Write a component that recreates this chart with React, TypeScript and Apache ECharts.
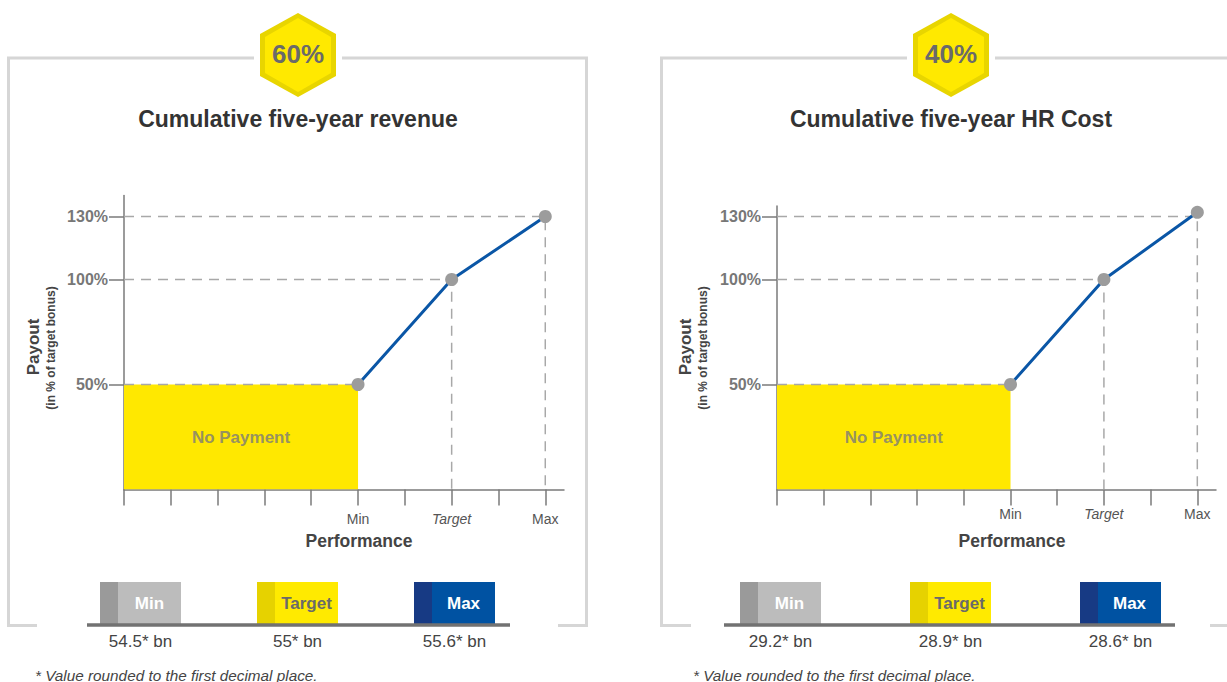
import React, { useEffect, useRef } from "react";
import * as echarts from "echarts";

// ---- data ----
const titles = ["Cumulative five-year revenue", "Cumulative five-year HR Cost"];
const weights = ["60%", "40%"];
const perfLabels = ["Min", "Target", "Max"];
const perfPositions = [5, 7, 9];
const perfTicks = [0, 1, 2, 3, 4, 5, 6, 7, 8, 9];
const payoutLevels = [50, 100, 130];
const revenuePayout = [50, 100, 130];
const hrCostPayout = [50, 100, 132];
const revenueValues = ["54.5* bn", "55* bn", "55.6* bn"];
const hrCostValues = ["29.2* bn", "28.9* bn", "28.6* bn"];
const noPaymentText = "No Payment";
const footnote = "* Value rounded to the first decimal place.";

const FONT = "Liberation Sans, Arial, Helvetica, sans-serif";

// ---- layout (positions / styles) ----
const panels = [
  {
    title: titles[0], weight: weights[0], payout: revenuePayout, values: revenueValues,
    cx: 298, gridLeft: 124, gridTop: 195.5, gridHeight: 294, gridWidth: 440, yMax: 140,
    labelMargin: 22, perfX: 359, payoutX: 33, subX: 51,
    frameL: 8.5, frameR: 586.5, frameBL: 37, frameBR: 558,
    legendX0: 87, legendX1: 510, boxes: [100, 257, 414], footX: 35,
  },
  {
    title: titles[1], weight: weights[1], payout: hrCostPayout, values: hrCostValues,
    cx: 951, gridLeft: 777, gridTop: 206, gridHeight: 283.5, gridWidth: 439, yMax: 135,
    labelMargin: 17, perfX: 1012, payoutX: 685, subX: 703,
    frameL: 661.5, frameR: 1240, frameBL: 691, frameBR: 1210,
    legendX0: 724, legendX1: 1175, boxes: [740, 910, 1080], footX: 693,
  },
];

const boxColors = [
  { strip: "#9a9a9a", main: "#bcbcbc", text: "#ffffff" },
  { strip: "#e6d200", main: "#ffea00", text: "#6a6a6a" },
  { strip: "#173a84", main: "#0052a2", text: "#ffffff" },
];

const DASH = { color: "#a8a8a8", width: 1.5, type: [10, 7] as any };

function buildOption() {
  const grid: any[] = [];
  const xAxis: any[] = [];
  const yAxis: any[] = [];
  const series: any[] = [];
  const graphic: any[] = [];

  panels.forEach((p, i) => {
    grid.push({ left: p.gridLeft, top: p.gridTop, width: p.gridWidth, height: p.gridHeight });
    xAxis.push({
      type: "value", gridIndex: i, min: 0, max: 9.4,
      axisLine: { show: true, lineStyle: { color: "#7a7a7a", width: 1.5 } },
      axisTick: { show: true, customValues: perfTicks, length: 16, lineStyle: { color: "#7a7a7a", width: 1.5 } },
      axisLabel: {
        show: true, customValues: perfPositions, margin: p.labelMargin,
        color: "#555", fontSize: 14, fontFamily: FONT,
        formatter: (v: number) => {
          const idx = perfPositions.indexOf(Math.round(v));
          if (idx < 0) return "";
          const name = perfLabels[idx];
          return name === "Target" ? "{i|" + name + "}" : name;
        },
        rich: { i: { fontStyle: "italic", color: "#555", fontSize: 14, fontFamily: FONT } },
      },
      splitLine: { show: false },
    });
    yAxis.push({
      type: "value", gridIndex: i, min: 0, max: p.yMax,
      axisLine: { show: true, lineStyle: { color: "#7a7a7a", width: 1.5 } },
      axisTick: { show: true, customValues: payoutLevels, length: 15, lineStyle: { color: "#7a7a7a", width: 1.5 } },
      axisLabel: {
        show: true, customValues: payoutLevels, margin: 16, formatter: "{value}%",
        color: "#777", fontSize: 16, fontWeight: "bold", fontFamily: FONT,
      },
      splitLine: { show: false },
    });

    // yellow "no payment" area
    series.push({
      type: "line", xAxisIndex: i, yAxisIndex: i, z: 1, silent: true,
      data: [[0, payoutLevels[0]], [perfPositions[0], payoutLevels[0]]],
      symbol: "none", lineStyle: { width: 0, opacity: 0 },
      areaStyle: { color: "#ffe800", opacity: 1 },
    });
    // dashed guides
    payoutLevels.forEach((lvl, k) => {
      const pts: number[][] = [[0, lvl], [perfPositions[k], lvl]];
      if (k > 0) pts.push([perfPositions[k], 0]);
      series.push({
        type: "line", xAxisIndex: i, yAxisIndex: i, z: 2, silent: true,
        data: pts, symbol: "none", lineStyle: DASH,
      });
    });
    // payout curve
    series.push({
      type: "line", xAxisIndex: i, yAxisIndex: i, z: 5,
      data: perfPositions.map((x, k) => [x, p.payout[k]]),
      symbol: "circle", symbolSize: 13, showSymbol: true,
      lineStyle: { color: "#0a56a6", width: 3 },
      itemStyle: { color: "#9c9c9c", borderWidth: 0 },
    });
    // "No Payment" label
    series.push({
      type: "scatter", xAxisIndex: i, yAxisIndex: i, z: 6, silent: true,
      data: [[perfPositions[0] / 2, payoutLevels[0] / 2]], symbolSize: 0,
      label: {
        show: true, position: "inside", formatter: noPaymentText,
        color: "#7a7a7a", fontSize: 17, fontWeight: "bold", fontFamily: FONT,
      },
    });

    // frame
    const frameStyle = { stroke: "#d6d6d6", lineWidth: 3, fill: null };
    graphic.push({
      type: "polyline", silent: true,
      shape: { points: [[p.cx - 44, 58], [p.frameL, 58], [p.frameL, 625.5], [p.frameBL, 625.5]] },
      style: frameStyle,
    });
    graphic.push({
      type: "polyline", silent: true,
      shape: { points: [[p.cx + 44, 58], [p.frameR, 58], [p.frameR, 625.5], [p.frameBR, 625.5]] },
      style: frameStyle,
    });
    // hexagon
    const cx = p.cx;
    graphic.push({
      type: "polygon", silent: true,
      shape: { points: [[cx, 13], [cx + 38, 34], [cx + 38, 76], [cx, 97], [cx - 38, 76], [cx - 38, 34]] },
      style: { fill: "#e8d500" },
    });
    graphic.push({
      type: "polygon", silent: true,
      shape: { points: [[cx, 18], [cx + 33, 37], [cx + 33, 73], [cx, 92], [cx - 33, 73], [cx - 33, 37]] },
      style: { fill: "#ffe900" },
    });
    graphic.push({
      type: "text", x: cx, y: 54, silent: true,
      style: { text: p.weight, fill: "#6a6a6a", fontSize: 26, fontWeight: "bold", fontFamily: FONT, align: "center", verticalAlign: "middle" },
    });
    // title
    graphic.push({
      type: "text", x: cx, y: 119, silent: true,
      style: { text: p.title, fill: "#333", fontSize: 23, fontWeight: "bold", fontFamily: FONT, align: "center", verticalAlign: "middle" },
    });
    // axis names
    graphic.push({
      type: "text", x: p.perfX, y: 541, silent: true,
      style: { text: "Performance", fill: "#444", fontSize: 17.5, fontWeight: "bold", fontFamily: FONT, align: "center", verticalAlign: "middle" },
    });
    graphic.push({
      type: "text", x: p.payoutX, y: 347, rotation: Math.PI / 2, silent: true,
      style: { text: "Payout", fill: "#444", fontSize: 17, fontWeight: "bold", fontFamily: FONT, align: "center", verticalAlign: "middle" },
    });
    graphic.push({
      type: "text", x: p.subX, y: 348, rotation: Math.PI / 2, silent: true,
      style: { text: "(in % of target bonus)", fill: "#444", fontSize: 12, fontWeight: "bold", fontFamily: FONT, align: "center", verticalAlign: "middle" },
    });
    // legend boxes
    p.boxes.forEach((bx, k) => {
      const c = boxColors[k];
      graphic.push({ type: "rect", silent: true, shape: { x: bx, y: 582, width: 81, height: 42 }, style: { fill: c.main } });
      graphic.push({ type: "rect", silent: true, shape: { x: bx, y: 582, width: 18, height: 42 }, style: { fill: c.strip } });
      graphic.push({
        type: "text", x: bx + 18 + 63 / 2, y: 603, silent: true,
        style: { text: perfLabels[k], fill: c.text, fontSize: 17, fontWeight: "bold", fontFamily: FONT, align: "center", verticalAlign: "middle" },
      });
      graphic.push({
        type: "text", x: bx + 40.5, y: 641, silent: true,
        style: { text: p.values[k], fill: "#444", fontSize: 17, fontFamily: FONT, align: "center", verticalAlign: "middle" },
      });
    });
    graphic.push({
      type: "line", silent: true,
      shape: { x1: p.legendX0, y1: 625, x2: p.legendX1, y2: 625 },
      style: { stroke: "#727272", lineWidth: 3.5 },
    });
    graphic.push({
      type: "text", x: p.footX, y: 675, silent: true,
      style: { text: footnote, fill: "#444", fontSize: 15.3, fontStyle: "italic", fontFamily: FONT, align: "left", verticalAlign: "middle" },
    });
  });

  return {
    animation: false,
    backgroundColor: "#ffffff",
    grid, xAxis, yAxis, series, graphic,
  };
}

export default function App() {
  const ref = useRef<HTMLDivElement>(null);
  useEffect(() => {
    if (!ref.current) return;
    const chart = echarts.init(ref.current, null, { renderer: "svg" });
    chart.setOption(buildOption() as any);
    return () => chart.dispose();
  }, []);
  return (
    <div
      ref={ref}
      style={{ position: "fixed", left: 0, top: 0, width: 1227, height: 682, background: "#fff" }}
    />
  );
}
